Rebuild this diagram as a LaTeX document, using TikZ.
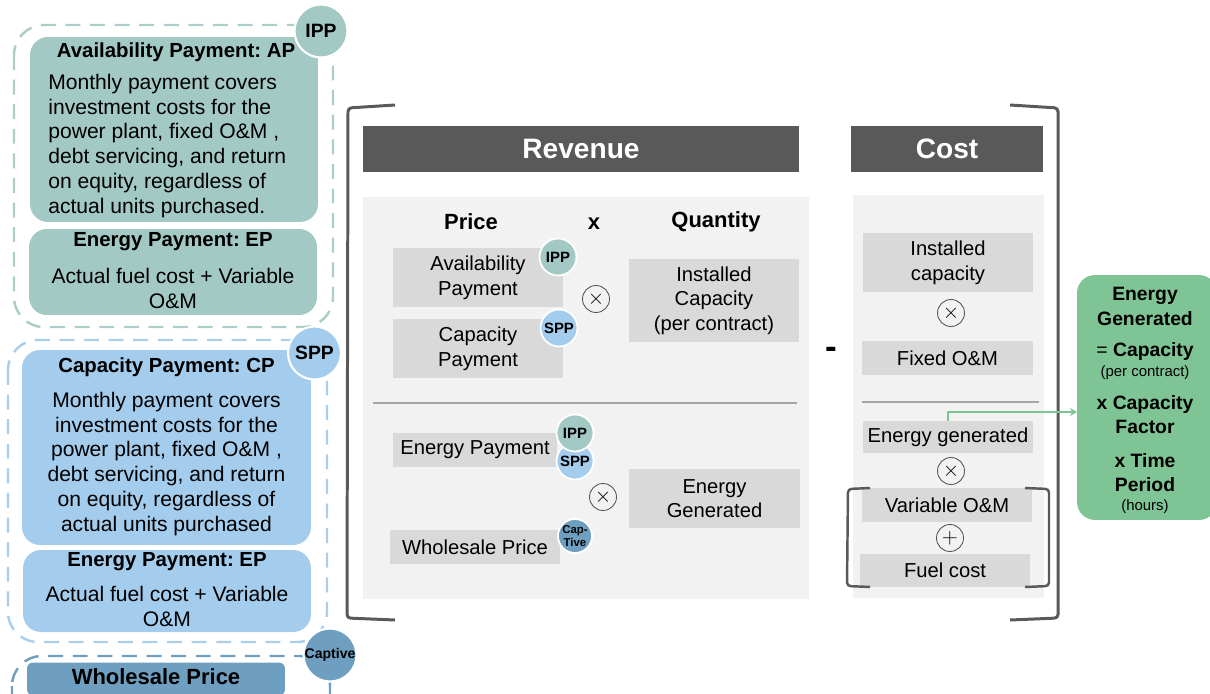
\documentclass[tikz,border=0pt]{standalone}
\usepackage{fontspec}
\setmainfont{Liberation Sans}
\frenchspacing
\usetikzlibrary{arrows.meta,positioning}
\definecolor{ippteal}{HTML}{A3C9C4}
\definecolor{sppblue}{HTML}{A4CCEC}
\definecolor{capsteel}{HTML}{6F9FC0}
\definecolor{egreen}{HTML}{7FC494}
\definecolor{darkhead}{HTML}{595959}
\definecolor{panelgray}{HTML}{F2F2F2}
\definecolor{boxgray}{HTML}{D9D9D9}
\definecolor{linegray}{HTML}{A6A6A6}

\begin{document}
\begin{tikzpicture}[x=0.02cm, y=-0.02cm]
                \tikzstyle{group} = [dashed, dash pattern=on 8.5pt off 5.5pt, line width=1.4pt, rounded corners=0.6cm];
                \tikzstyle{paybox} = [rounded corners=0.36cm, minimum width=5.76cm, inner sep=0pt];
                \tikzstyle{paytitle} = [inner sep=0pt, font=\bfseries\fontsize{11.6}{14}\selectfont];
                \tikzstyle{paytext} = [inner sep=0pt, align=center, font=\fontsize{12}{14.2}\selectfont];
                \tikzstyle{tag} = [circle, draw=white, line width=1.2pt, minimum size=1.06cm, inner sep=0pt, font=\bfseries\fontsize{11}{12}\selectfont];
                \tikzstyle{smalltag} = [circle, draw=white, line width=1pt, minimum size=0.74cm, inner sep=0pt, font=\bfseries\fontsize{8.5}{9}\selectfont];
                \tikzstyle{header} = [fill=darkhead, text=white, minimum height=0.92cm, inner sep=0pt, font=\bfseries\fontsize{16}{18}\selectfont];
                \tikzstyle{colhead} = [inner sep=0pt, font=\bfseries\fontsize{12.5}{14}\selectfont];
                \tikzstyle{cell} = [fill=boxgray, inner sep=0pt, align=center, font=\fontsize{11.5}{14}\selectfont];
                \tikzstyle{op} = [circle, draw=black!65, line width=0.5pt, minimum size=0.54cm, inner sep=0pt, font=\fontsize{13}{13}\selectfont];
                \tikzstyle{bracket} = [draw=darkhead, line width=1.7pt, rounded corners=2pt];
                \tikzstyle{greentext} = [inner sep=0pt, align=center, font=\bfseries\fontsize{11}{14.2}\selectfont];
                \tikzstyle{greennote} = [inner sep=0pt, font=\fontsize{8.5}{10}\selectfont];

                \useasboundingbox (0,0) rectangle (1210,693);

                % payment schemes on the left
                \draw[group, draw=ippteal!90] (14,25) rectangle (333,327);
                \draw[group, draw=sppblue!95] (8,340) rectangle (327,642);
                \draw[group, draw=capsteel] (12,656) rectangle (330,730);

                \node[paybox, fill=ippteal, minimum height=3.7cm] (ap) at (174,129.5) {};
                \node[paytitle] (aphead) at (176,52) {Availability Payment: AP};
                \node[paytext, anchor=west, align=left] (apbody) at (48,146)
                    {Monthly payment covers\\investment costs for the\\power plant, fixed O\&M ,\\debt servicing, and return\\on equity, regardless of\\actual units purchased.};
                \node[paybox, fill=ippteal, minimum height=1.72cm] (apep) at (173,272) {};
                \node[paytitle] (apephead) at (173,242) {Energy Payment: EP};
                \node[paytext] (apepbody) at (173,288) {Actual fuel cost + Variable\\O\&M};

                \node[paybox, fill=sppblue, minimum width=5.78cm, minimum height=3.9cm] (cp) at (166.5,447.5) {};
                \node[paytitle] (cphead) at (166.5,367) {Capacity Payment: CP};
                \node[paytext] (cpbody) at (166.5,464)
                    {Monthly payment covers\\investment costs for the\\power plant, fixed O\&M ,\\debt servicing, and return\\on equity, regardless of\\actual units purchased};
                \node[paybox, fill=sppblue, minimum height=1.64cm] (cpep) at (167,591) {};
                \node[paytitle] (cpephead) at (167,562) {Energy Payment: EP};
                \node[paytext] (cpepbody) at (167,606.5) {Actual fuel cost + Variable\\O\&M};

                \node[paybox, fill=capsteel, minimum width=5.16cm, minimum height=0.66cm, rounded corners=0.12cm] (whole) at (156,679) {};
                \node[paytitle, font=\bfseries\fontsize{12.5}{14}\selectfont] (wholetext) at (156,677) {Wholesale Price};

                \node[tag, fill=ippteal] (ipp) at (321,31) {IPP};
                \node[tag, fill=sppblue] (spp) at (314.5,353) {SPP};
                \node[tag, fill=capsteel, font=\bfseries\fontsize{8}{9}\selectfont] (captive) at (330,655) {Captive};

                % outer bracket
                \draw[bracket] (395,105) -- (348,108) -- (347,618) -- (395,620);
                \draw[bracket] (1010,105) -- (1058,108) -- (1058,618) -- (1010,620);

                % revenue side
                \node[header, minimum width=8.72cm] (revenue) at (581,149) {Revenue};
                \fill[panelgray] (363,197) rectangle (809,599);
                \node[colhead] (price) at (471,222) {Price};
                \node[colhead] (by) at (594,224) {x};
                \node[colhead] (quantity) at (716,222) {Quantity};

                \node[cell, minimum width=3.4cm, minimum height=1.18cm] (avail) at (478,277.5) {Availability\\Payment};
                \node[cell, minimum width=3.4cm, minimum height=1.18cm] (cappay) at (478,348.5) {Capacity\\Payment};
                \node[cell, minimum width=3.4cm, minimum height=1.66cm] (instcap) at (714,300.5) {Installed\\Capacity\\(per contract)};
                \node[op] (mul1) at (596,299) {$\times$};
                \node[smalltag, fill=ippteal] (ipp1) at (558,257) {IPP};
                \node[smalltag, fill=sppblue] (spp1) at (559,328) {SPP};

                \draw[linegray, line width=1.6pt] (373,403) -- (797,403);

                \node[cell, minimum width=3.28cm, minimum height=0.68cm] (enpay) at (475,450) {Energy Payment};
                \node[cell, minimum width=3.4cm, minimum height=0.68cm] (wprice) at (475,547) {Wholesale Price};
                \node[cell, minimum width=3.42cm, minimum height=1.18cm] (engen) at (714.5,498.5) {Energy\\Generated};
                \node[op] (mul2) at (603,497) {$\times$};
                \node[smalltag, fill=sppblue] (spp2) at (575,461) {SPP};
                \node[smalltag, fill=ippteal] (ipp2) at (575,433) {IPP};
                \node[smalltag, fill=capsteel, minimum size=0.68cm, align=center, font=\bfseries\fontsize{6.5}{7}\selectfont] (cap2) at (575,536) {Cap-\\Tive};

                \node[inner sep=0pt, font=\bfseries\fontsize{20}{20}\selectfont] (minus) at (831,353) {-};

                % cost side
                \node[header, minimum width=3.84cm] (cost) at (947,149) {Cost};
                \fill[panelgray] (853,195) rectangle (1044,598);
                \node[cell, minimum width=3.4cm, minimum height=1.18cm] (instcap2) at (948,262.5) {Installed\\capacity};
                \node[op] (mul3) at (951,313) {$\times$};
                \node[cell, minimum width=3.42cm, minimum height=0.68cm] (fixom) at (947.5,358) {Fixed O\&M};
                \draw[linegray, line width=1.6pt] (862,402) -- (1039,402);
                \node[cell, minimum width=3.4cm, minimum height=0.64cm] (engen2) at (948,437) {Energy generated};
                \node[op] (mul4) at (951,471) {$\times$};
                \node[cell, minimum width=3.4cm, minimum height=0.68cm] (varom) at (947,505) {Variable O\&M};
                \node[op] (add) at (950,538) {$+$};
                \node[cell, minimum width=3.4cm, minimum height=0.66cm] (fuel) at (945,570.5) {Fuel cost};
                \draw[bracket, line width=1.4pt] (870,488) -- (848,489) -- (847,586) -- (870,587);
                \draw[bracket, line width=1.4pt] (1025,488) -- (1049,489) -- (1049,586) -- (1025,587);

                % energy generated breakdown
                \node[fill=egreen, rounded corners=0.36cm, minimum width=2.8cm, minimum height=4.9cm, inner sep=0pt] (egbox) at (1147,397.5) {};
                \node[greentext] (egtitle) at (1145,306) {Energy\\Generated};
                \node[inner sep=0pt, font=\fontsize{11}{14}\selectfont] (egcap) at (1145,351) {= \textbf{Capacity}};
                \node[greennote] (egper) at (1145,373) {(per contract)};
                \node[greentext, font=\bfseries\fontsize{11}{13.6}\selectfont] (egfac) at (1145,415) {x Capacity\\Factor};
                \node[greentext, font=\bfseries\fontsize{11}{13.6}\selectfont] (egtime) at (1145,473) {x Time\\Period};
                \node[greennote] (eghours) at (1145,507) {(hours)};

                \coordinate (egin) at (1077,412);
                \draw[-{Stealth[length=1.4mm,width=1.6mm]}, egreen, line width=0.9pt] (engen2.north) |- (egin);
\end{tikzpicture}
\end{document}
